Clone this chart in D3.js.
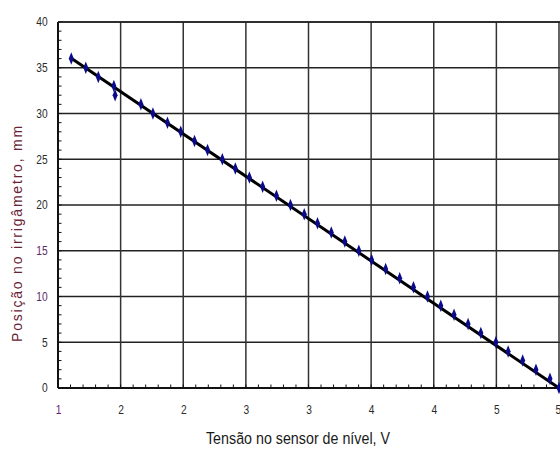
<!DOCTYPE html>
<html>
<head>
<meta charset="utf-8">
<script src="https://cdn.jsdelivr.net/npm/d3@7"></script>
<style>
  html, body { margin: 0; padding: 0; background: #fff; }
  svg { display: block; }
</style>
</head>
<body>
<svg id="chart" width="560" height="457"></svg>
<script>
// ---- data ----
const voltage = [1.106, 1.222, 1.322, 1.446, 1.456, 1.662, 1.758, 1.874, 1.980, 2.090,
                 2.194, 2.312, 2.416, 2.528, 2.634, 2.744, 2.856, 2.966, 3.072, 3.182,
                 3.290, 3.402, 3.504, 3.616, 3.728, 3.838, 3.950, 4.056, 4.162, 4.274,
                 4.376, 4.496, 4.594, 4.710, 4.816, 4.928, 5.000];
const position = [36, 35, 34, 33, 32, 31, 30, 29, 28, 27,
                  26, 25, 24, 23, 22, 21, 20, 19, 18, 17,
                  16, 15, 14, 13, 12, 11, 10, 9, 8, 7,
                  6, 5, 4, 3, 2, 1, 0];
// trend line end points
const trendX = [1.10, 5.00];
const trendY = [36.1, 0.0];

const xTickValues = [1, 1.5, 2, 2.5, 3, 3.5, 4, 4.5, 5];
const xTickLabels = ["1", "2", "2", "3", "3", "4", "4", "5", "5"];
const yTickValues = [0, 5, 10, 15, 20, 25, 30, 35, 40];
const yTickLabels = ["0", "5", "10", "15", "20", "25", "30", "35", "40"];
const xMinorTicks = d3.range(11, 51).map(v => v / 10);
const yMinorTicks = d3.range(0, 41);

const xTitle = "Tensão no sensor de nível, V";
const yTitle = "Posição no irrigâmetro, mm";

// ---- layout ----
const svg = d3.select("#chart");
const pLeft = 58, pRight = 559, pTop = 22, pBottom = 388;
const x = d3.scaleLinear().domain([1, 5]).range([pLeft, pRight]);
const y = d3.scaleLinear().domain([0, 40]).range([pBottom, pTop]);

const tickFont = "'Liberation Sans', Arial, sans-serif";

// gridlines
svg.append("g").selectAll("line").data(yTickValues.filter(v => v > 0)).join("line")
  .attr("x1", pLeft).attr("x2", pRight + 5)
  .attr("y1", d => y(d)).attr("y2", d => y(d))
  .attr("stroke", "#222").attr("stroke-width", 1.5);
svg.append("g").selectAll("line").data(xTickValues.filter(v => v > 1)).join("line")
  .attr("x1", d => x(d)).attr("x2", d => x(d))
  .attr("y1", pTop).attr("y2", pBottom)
  .attr("stroke", "#333").attr("stroke-width", 1.5);

// minor ticks (inside)
svg.append("g").selectAll("line").data(xMinorTicks).join("line")
  .attr("x1", d => x(d)).attr("x2", d => x(d))
  .attr("y1", pBottom).attr("y2", pBottom - 3.5)
  .attr("stroke", "#111").attr("stroke-width", 1);
svg.append("g").selectAll("line").data(yMinorTicks).join("line")
  .attr("x1", pLeft).attr("x2", pLeft + 3.5)
  .attr("y1", d => y(d)).attr("y2", d => y(d))
  .attr("stroke", "#111").attr("stroke-width", 1);

// axes
const xAxis = d3.axisBottom(x).tickValues(xTickValues)
  .tickFormat((d, i) => xTickLabels[i]).tickSize(0).tickPadding(17);
const gx = svg.append("g").attr("transform", `translate(0,${pBottom})`).call(xAxis);
gx.select(".domain").attr("stroke", "#111").attr("stroke-width", 2).attr("d", `M${pLeft},0H${pRight + 5}`);
gx.selectAll("text").attr("font-family", tickFont).attr("font-size", 12).attr("fill", "#2b2b2b");
gx.selectAll(".tick text").attr("transform", "scale(0.85,1)");
gx.selectAll(".tick text").filter((d, i) => i === 0).attr("fill", "#6a1a7a");
gx.selectAll(".tick text").filter((d, i) => i === xTickValues.length - 1)
  .attr("text-anchor", "end").attr("x", 2);

const yAxis = d3.axisLeft(y).tickValues(yTickValues)
  .tickFormat((d, i) => yTickLabels[i]).tickSize(0).tickPadding(0);
const gy = svg.append("g").attr("transform", `translate(${pLeft},0)`).call(yAxis);
gy.select(".domain").attr("stroke", "#111").attr("stroke-width", 2).attr("d", `M0,${pTop}V${pBottom}`);
gy.selectAll("text").attr("font-family", tickFont).attr("font-size", 12).attr("fill", "#2b2b2b")
  .attr("x", -9).attr("transform", "translate(-9,0) scale(0.85,1) translate(9,0)");
gy.selectAll(".tick text").attr("x", -10.6);
gy.selectAll(".tick text").filter(d => d === 10 || d === 15).attr("fill", "#5a2a6a");

// top frame
svg.append("line").attr("x1", pLeft).attr("x2", pRight + 5).attr("y1", pTop).attr("y2", pTop)
  .attr("stroke", "#222").attr("stroke-width", 1.5);

// trend line
const line = d3.line().x(d => x(d[0])).y(d => y(d[1]));
svg.append("path").datum(trendX.map((v, i) => [v, trendY[i]]))
  .attr("d", line).attr("fill", "none").attr("stroke", "#000").attr("stroke-width", 3);

// markers
const diamond = d3.symbol().type(d3.symbolDiamond).size(34);
svg.append("g").selectAll("path").data(voltage.map((v, i) => [v, position[i]])).join("path")
  .attr("d", diamond)
  .attr("transform", d => `translate(${x(d[0])},${y(d[1])}) scale(0.8,1.15)`)
  .attr("fill", "#0a0a8a");

// titles
svg.append("text").attr("transform", "translate(298,444) scale(0.84,1)").attr("text-anchor", "middle")
  .attr("font-family", tickFont).attr("font-size", 17).attr("fill", "#1a1a1a")
  .text(xTitle);
svg.append("text").attr("transform", "translate(22,233) rotate(-90)")
  .attr("text-anchor", "middle")
  .attr("font-family", "'Liberation Sans', Arial, sans-serif").attr("font-size", 14)
  .attr("letter-spacing", 1.8).attr("fill", "#6a2236")
  .text(yTitle);
</script>
</body>
</html>
